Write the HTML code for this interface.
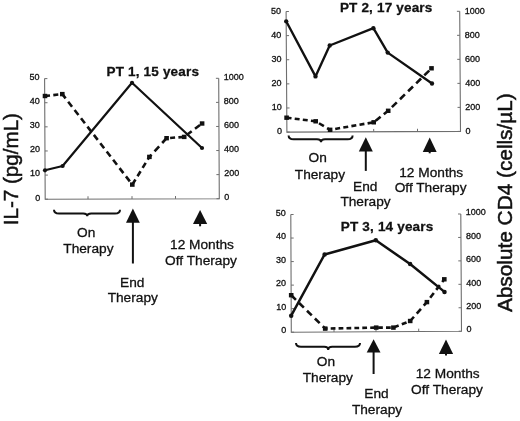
<!DOCTYPE html>
<html><head><meta charset="utf-8"><title>IL-7 and CD4</title>
<style>
html,body{margin:0;padding:0;background:#fff;}
body{width:520px;height:421px;overflow:hidden;}
svg{display:block;font-family:"Liberation Sans", Arial, sans-serif;fill:#111;}
text{stroke:#111;stroke-width:0.3px;}
</style></head>
<body>
<svg width="520" height="421" viewBox="0 0 520 421">
<path d="M44.6 78.6L45.2 199.2L219.3 198.7L218.7 78.3" fill="none" stroke="#6e6e6e" stroke-width="1.1"/>
<path d="M45.2 199.2l2.8 0M219.3 198.7l-2.8 0M45.08 175.08l2.8 0M219.18 174.62l-2.8 0M44.96 150.96l2.8 0M219.06 150.54l-2.8 0M44.84 126.84l2.8 0M218.94 126.46l-2.8 0M44.72 102.72l2.8 0M218.82 102.38l-2.8 0M44.6 78.6l2.8 0M218.7 78.3l-2.8 0M88 199.08l0 -2.8M132 198.95l0 -2.8M175.5 198.83l0 -2.8" stroke="#6e6e6e" stroke-width="1"/>
<text x="40.2" y="200.5" text-anchor="end" font-size="9">0</text>
<text x="224.3" y="200" font-size="9">0</text>
<text x="40.08" y="176.38" text-anchor="end" font-size="9">10</text>
<text x="224.18" y="175.92" font-size="9">200</text>
<text x="39.96" y="152.26" text-anchor="end" font-size="9">20</text>
<text x="224.06" y="151.84" font-size="9">400</text>
<text x="39.84" y="128.14" text-anchor="end" font-size="9">30</text>
<text x="223.94" y="127.76" font-size="9">600</text>
<text x="39.72" y="104.02" text-anchor="end" font-size="9">40</text>
<text x="223.82" y="103.68" font-size="9">800</text>
<text x="39.6" y="79.9" text-anchor="end" font-size="9">50</text>
<text x="223.7" y="79.6" font-size="9">1000</text>
<polyline points="45,170.3 62.6,166 132,82.8 202,148" fill="none" stroke="#111" stroke-width="2.2" stroke-linejoin="round"/>
<circle cx="45" cy="170.3" r="2.1" fill="#111"/>
<circle cx="62.6" cy="166" r="2.1" fill="#111"/>
<circle cx="132" cy="82.8" r="2.1" fill="#111"/>
<circle cx="202" cy="148" r="2.1" fill="#111"/>
<path d="M45 96L50 95.45M53.3 95.09L58.3 94.54M61.6 94.18L62.3 94.1M62.3 94.1L65.63 98.4M68.18 101.7L72.05 106.7M74.6 110L78.47 115M81.02 118.3L84.89 123.3M87.44 126.6L91.31 131.6M93.86 134.9L97.73 139.9M100.28 143.2L104.15 148.2M106.7 151.5L110.57 156.5M113.12 159.8L116.99 164.8M119.54 168.1L123.4 173.1M125.96 176.4L129.82 181.4M132.36 184.5L135.45 179.5M137.49 176.2L140.57 171.2M142.61 167.9L145.7 162.9M147.73 159.6L149.4 156.9M149.4 156.9L151.52 154.6M154.55 151.3L159.15 146.3M162.19 143L166.6 138.2M166.6 138.2L166.8 138.19M170.1 137.94L175.1 137.57M178.4 137.33L183.4 136.96M186.7 135.03L191.7 131.29M195 128.82L200 125.07" fill="none" stroke="#111" stroke-width="2.6"/>
<rect x="42.7" y="93.8" width="4.6" height="4.4" fill="#111"/>
<rect x="60" y="91.9" width="4.6" height="4.4" fill="#111"/>
<rect x="130" y="182.4" width="4.6" height="4.4" fill="#111"/>
<rect x="147.1" y="154.7" width="4.6" height="4.4" fill="#111"/>
<rect x="164.3" y="136" width="4.6" height="4.4" fill="#111"/>
<rect x="181.9" y="134.7" width="4.6" height="4.4" fill="#111"/>
<rect x="199.8" y="121.3" width="4.6" height="4.4" fill="#111"/>
<text x="106.5" y="75.8" font-size="13.5" font-weight="bold" letter-spacing="0.18">PT 1, 15 years</text>
<path d="M54 209.8Q54 213.6 59 213.6H83.2Q87.2 213.6 87.2 216.3Q87.2 213.6 91.2 213.6H115Q120 213.6 120 209.8" fill="none" stroke="#111" stroke-width="2"/>
<text x="86.2" y="236.5" text-anchor="middle" font-size="13.7">On</text>
<text x="88.4" y="252.9" text-anchor="middle" font-size="13.7">Therapy</text>
<path d="M132.9 208.6L139.8 222.7H126Z" fill="#111"/>
<path d="M132.9 221.7V263.5" stroke="#111" stroke-width="2"/>
<text x="132.3" y="286.5" text-anchor="middle" font-size="13.7">End</text>
<text x="132.75" y="302.4" text-anchor="middle" font-size="13.7">Therapy</text>
<path d="M200.1 210L207.2 223.9H193Z" fill="#111"/>
<path d="M200.1 222.9V226.3" stroke="#111" stroke-width="2"/>
<text x="202" y="249" text-anchor="middle" font-size="13.7">12 Months</text>
<text x="201" y="264.9" text-anchor="middle" font-size="13.7">Off Therapy</text>
<path d="M286.1 11.5L286.9 132.1L460.5 131.4L459.7 11.3" fill="none" stroke="#6e6e6e" stroke-width="1.1"/>
<path d="M286.9 132.1l2.8 0M460.5 131.4l-2.8 0M286.74 107.98l2.8 0M460.34 107.38l-2.8 0M286.58 83.86l2.8 0M460.18 83.36l-2.8 0M286.42 59.74l2.8 0M460.02 59.34l-2.8 0M286.26 35.62l2.8 0M459.86 35.32l-2.8 0M286.1 11.5l2.8 0M459.7 11.3l-2.8 0M329.5 131.93l0 -2.8M373.7 131.75l0 -2.8M417.5 131.57l0 -2.8" stroke="#6e6e6e" stroke-width="1"/>
<text x="281.9" y="134.3" text-anchor="end" font-size="9">0</text>
<text x="465.5" y="133.6" font-size="9">0</text>
<text x="281.74" y="110.18" text-anchor="end" font-size="9">10</text>
<text x="465.34" y="109.58" font-size="9">200</text>
<text x="281.58" y="86.06" text-anchor="end" font-size="9">20</text>
<text x="465.18" y="85.56" font-size="9">400</text>
<text x="281.42" y="61.94" text-anchor="end" font-size="9">30</text>
<text x="465.02" y="61.54" font-size="9">600</text>
<text x="281.26" y="37.82" text-anchor="end" font-size="9">40</text>
<text x="464.86" y="37.52" font-size="9">800</text>
<text x="281.1" y="13.7" text-anchor="end" font-size="9">50</text>
<text x="464.7" y="13.5" font-size="9">1000</text>
<polyline points="286.2,21.3 315.5,76.4 329.7,45.5 373.4,28.2 387.7,52.6 432,83.5" fill="none" stroke="#111" stroke-width="2.35" stroke-linejoin="round"/>
<circle cx="286.2" cy="21.3" r="2.175" fill="#111"/>
<circle cx="315.5" cy="76.4" r="2.175" fill="#111"/>
<circle cx="329.7" cy="45.5" r="2.175" fill="#111"/>
<circle cx="373.4" cy="28.2" r="2.175" fill="#111"/>
<circle cx="387.7" cy="52.6" r="2.175" fill="#111"/>
<circle cx="432" cy="83.5" r="2.175" fill="#111"/>
<path d="M286.6 117.7L291.5 118.31M294.7 118.7L299.6 119.31M302.8 119.7L307.7 120.31M310.9 120.71L315.7 121.3M315.7 121.3L315.8 121.36M319 123.25L323.9 126.14M327.1 128.03L330.1 129.8M330.1 129.8L332 129.47M335.2 128.92L340.1 128.08M343.3 127.53L348.2 126.69M351.4 126.14L356.3 125.29M359.5 124.74L364.4 123.9M367.6 123.35L372.5 122.51M375.7 120.71L380.6 116.83M383.8 114.29L388.2 110.8M388.2 110.8L388.7 110.31M391.9 107.17L396.8 102.36M400 99.22L404.9 94.41M408.1 91.27L413 86.46M416.2 83.32L421.1 78.51M424.3 75.37L429.2 70.56" fill="none" stroke="#111" stroke-width="2.6"/>
<rect x="284.3" y="115.5" width="4.6" height="4.4" fill="#111"/>
<rect x="313.4" y="119.1" width="4.6" height="4.4" fill="#111"/>
<rect x="327.8" y="127.6" width="4.6" height="4.4" fill="#111"/>
<rect x="371.4" y="120.1" width="4.6" height="4.4" fill="#111"/>
<rect x="385.9" y="108.6" width="4.6" height="4.4" fill="#111"/>
<rect x="429.2" y="66.1" width="4.6" height="4.4" fill="#111"/>
<text x="339.9" y="11.8" font-size="13.5" font-weight="bold" letter-spacing="0.18">PT 2, 17 years</text>
<path d="M288.6 135.4Q288.6 139.2 293.6 139.2H317Q321 139.2 321 142.3Q321 139.2 325 139.2H347.6Q352.6 139.2 352.6 135.4" fill="none" stroke="#111" stroke-width="2"/>
<text x="317.7" y="162.4" text-anchor="middle" font-size="13.7">On</text>
<text x="319.9" y="178.5" text-anchor="middle" font-size="13.7">Therapy</text>
<path d="M365.8 137.3L372.8 151.5H358.8Z" fill="#111"/>
<path d="M365.8 150.5V170.9" stroke="#111" stroke-width="2"/>
<text x="365.3" y="191" text-anchor="middle" font-size="13.7">End</text>
<text x="365.5" y="205.8" text-anchor="middle" font-size="13.7">Therapy</text>
<path d="M429.7 137.4L436.65 151.9H422.75Z" fill="#111"/>
<path d="M429.7 150.9V153.3" stroke="#111" stroke-width="2"/>
<text x="431.2" y="177" text-anchor="middle" font-size="13.7">12 Months</text>
<text x="430.6" y="192.3" text-anchor="middle" font-size="13.7">Off Therapy</text>
<path d="M290.8 214.5L291.3 332.2L461.5 331.2L460.8 214" fill="none" stroke="#6e6e6e" stroke-width="1.1"/>
<path d="M291.3 332.2l2.8 0M461.5 331.2l-2.8 0M291.2 308.66l2.8 0M461.36 307.76l-2.8 0M291.1 285.12l2.8 0M461.22 284.32l-2.8 0M291 261.58l2.8 0M461.08 260.88l-2.8 0M290.9 238.04l2.8 0M460.94 237.44l-2.8 0M290.8 214.5l2.8 0M460.8 214l-2.8 0M334 331.95l0 -2.8M376 331.7l0 -2.8M418.7 331.45l0 -2.8" stroke="#6e6e6e" stroke-width="1"/>
<text x="286.3" y="333.4" text-anchor="end" font-size="9">0</text>
<text x="466.5" y="332.4" font-size="9">0</text>
<text x="286.2" y="309.86" text-anchor="end" font-size="9">10</text>
<text x="466.36" y="308.96" font-size="9">200</text>
<text x="286.1" y="286.32" text-anchor="end" font-size="9">20</text>
<text x="466.22" y="285.52" font-size="9">400</text>
<text x="286" y="262.78" text-anchor="end" font-size="9">30</text>
<text x="466.08" y="262.08" font-size="9">600</text>
<text x="285.9" y="239.24" text-anchor="end" font-size="9">40</text>
<text x="465.94" y="238.64" font-size="9">800</text>
<text x="285.8" y="215.7" text-anchor="end" font-size="9">50</text>
<text x="465.8" y="215.2" font-size="9">1000</text>
<polyline points="291.2,315.7 324.6,254.5 375.8,240.3 410.1,264 444.5,291.9" fill="none" stroke="#111" stroke-width="2.5" stroke-linejoin="round"/>
<circle cx="291.2" cy="315.7" r="2.25" fill="#111"/>
<circle cx="324.6" cy="254.5" r="2.25" fill="#111"/>
<circle cx="375.8" cy="240.3" r="2.25" fill="#111"/>
<circle cx="410.1" cy="264" r="2.25" fill="#111"/>
<circle cx="444.5" cy="291.9" r="2.25" fill="#111"/>
<path d="M291.2 295.2L295.95 299.87M299.1 302.96L303.85 307.63M307 310.72L311.75 315.39M314.9 318.48L319.65 323.15M322.8 326.24L325.2 328.6M325.2 328.6L327.55 328.55M330.7 328.49L335.45 328.4M338.6 328.34L343.35 328.24M346.5 328.18L351.25 328.09M354.4 328.03L359.15 327.93M362.3 327.87L367.05 327.78M370.2 327.72L374.95 327.62M378.1 327.6L382.85 327.6M386 327.6L390.75 327.6M393.9 327.4L398.65 325.54M401.8 324.3L406.55 322.43M409.7 321.2L410.2 321M410.2 321L413.96 316.75M416.74 313.6L420.94 308.85M423.72 305.7L426.9 302.1M426.9 302.1L427.78 300.95M430.18 297.8L433.81 293.05M436.21 289.9L439.84 285.15M442.24 282L444.3 279.3" fill="none" stroke="#111" stroke-width="2.6"/>
<rect x="288.9" y="293" width="4.6" height="4.4" fill="#111"/>
<rect x="322.9" y="326.4" width="4.6" height="4.4" fill="#111"/>
<rect x="373.9" y="325.4" width="4.6" height="4.4" fill="#111"/>
<rect x="391.1" y="325.4" width="4.6" height="4.4" fill="#111"/>
<rect x="407.9" y="318.8" width="4.6" height="4.4" fill="#111"/>
<rect x="424.6" y="299.9" width="4.6" height="4.4" fill="#111"/>
<rect x="442" y="277.1" width="4.6" height="4.4" fill="#111"/>
<text x="340.8" y="231.4" font-size="13.5" font-weight="bold" letter-spacing="0.18">PT 3, 14 years</text>
<path d="M296 343Q296 346.8 301 346.8H324.2Q328.2 346.8 328.2 350Q328.2 346.8 332.2 346.8H355Q360 346.8 360 343" fill="none" stroke="#111" stroke-width="2"/>
<text x="326" y="366.1" text-anchor="middle" font-size="13.7">On</text>
<text x="327.8" y="381.9" text-anchor="middle" font-size="13.7">Therapy</text>
<path d="M373.6 339.3L380.5 352.6H366.7Z" fill="#111"/>
<path d="M373.6 351.6V374" stroke="#111" stroke-width="2"/>
<text x="376.5" y="398.3" text-anchor="middle" font-size="13.7">End</text>
<text x="377" y="414.2" text-anchor="middle" font-size="13.7">Therapy</text>
<path d="M446 339.6L453.1 354H438.9Z" fill="#111"/>
<path d="M446 353V355.4" stroke="#111" stroke-width="2"/>
<text x="447.7" y="378" text-anchor="middle" font-size="13.7">12 Months</text>
<text x="447" y="393.5" text-anchor="middle" font-size="13.7">Off Therapy</text>
<text transform="translate(17.9 225.2) rotate(-90)" font-size="20.6" style="stroke-width:0.5px">IL-7 (pg/mL)</text>
<text transform="translate(512 312.1) rotate(-90)" font-size="20.8" style="stroke-width:0.5px">Absolute CD4 (cells/µL)</text>
</svg>
</body></html>
